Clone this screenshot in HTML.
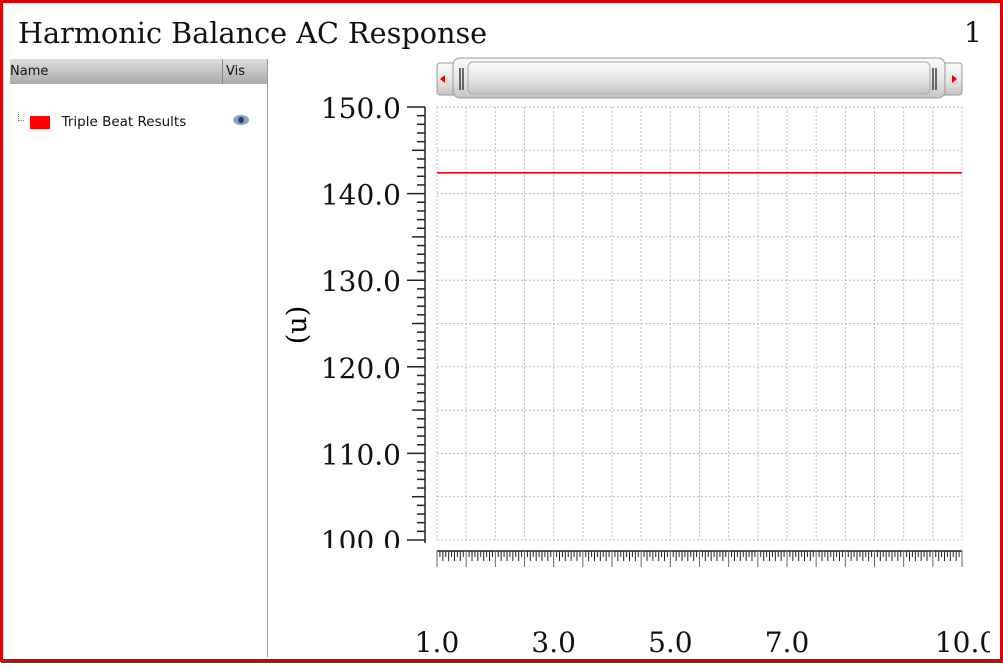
<!DOCTYPE html>
<html><head><meta charset="utf-8"><style>
html,body{margin:0;padding:0;background:#fff;}
body{width:1003px;height:671px;position:relative;overflow:hidden;font-family:"DejaVu Serif",serif;}
#frame{position:absolute;left:0;top:0;width:997px;height:656px;border:3px solid #d00;border-right-width:4px;box-shadow:1px 1px 0 #444;}
#title{position:absolute;left:18px;top:16px;font-size:28.7px;color:#111;font-family:"DejaVu Serif",serif;}
#num{position:absolute;left:964px;top:16px;font-size:28px;color:#111;font-family:"DejaVu Serif",serif;}
#panel{position:absolute;left:10px;top:59px;width:257px;height:598px;border-right:1px solid #999;font-family:"DejaVu Sans",sans-serif;}
#hdr{height:25px;background:linear-gradient(#ddd,#aaa);font-size:13px;color:#111;position:relative;}
#hdr span{position:absolute;top:5px;}
</style></head><body>
<div id="frame"></div>
<div id="title">Harmonic Balance AC Response</div>
<div id="num">1</div>
<div id="panel">
 <div id="hdr">
  <span style="left:0">Name</span>
  <span style="left:212px;border-left:1px solid #888;padding-left:3px;top:0;height:20px;padding-top:5px">Vis</span>
 </div>
 <div style="position:absolute;top:55px;left:8px;font-size:13.5px;color:#111;">
  <span style="display:inline-block;width:5px;height:8px;border-left:1px dotted #888;border-bottom:1px dotted #888;vertical-align:top;margin-top:-2px"></span>
  <span style="display:inline-block;width:20px;height:13px;background:#f00;vertical-align:middle;margin-left:2px"></span>
  <span style="margin-left:7px;vertical-align:middle">Triple Beat Results</span>
 </div>
 <svg style="position:absolute;left:222px;top:55px" width="18" height="12"><ellipse cx="9" cy="6" rx="8" ry="5" fill="#8aa0c8"/><circle cx="9" cy="6" r="3" fill="#345"/></svg>
</div>
<svg id="chart" width="1003" height="671" style="position:absolute;left:0;top:0">
 <defs><linearGradient id="sg" x1="0" y1="0" x2="0" y2="1"><stop offset="0" stop-color="#fafafa"/><stop offset="0.5" stop-color="#e8e8e8"/><stop offset="1" stop-color="#c4c4c4"/></linearGradient>
 <clipPath id="ylc"><rect x="270" y="60" width="160" height="488"/></clipPath>
 <clipPath id="xlc"><rect x="270" y="560" width="720" height="100"/></clipPath></defs>
 <g>
  <rect x="437" y="63" width="525" height="32" rx="3" fill="url(#sg)" stroke="#999"/>
  <rect x="453" y="58" width="492" height="40" rx="7" fill="url(#sg)" stroke="#999"/>
  <rect x="468" y="62" width="462" height="32" rx="5" fill="url(#sg)" stroke="#aaa"/>
  <path d="M440 79 l5 -4 v8z" fill="#e00"/><path d="M957 79 l-5 -4 v8z" fill="#e00"/>
  <path d="M460 68 v22 M463 68 v22 M933 68 v22 M936 68 v22" stroke="#222" stroke-width="1.3"/>
 </g>
 <g id="grid"></g>
 <g id="axes"></g>
 <g id="ylabels" clip-path="url(#ylc)"></g>
 <g id="xlabels" clip-path="url(#xlc)"></g>
 <g id="series"></g>
 <text x="306" y="325" font-size="27" transform="rotate(-90 306 325)" text-anchor="middle" font-family="DejaVu Serif, serif">(u)</text>
</svg>
<script>
const xTicks=[1,3,5,7,10];
const xTickLabels=["1.0","3.0","5.0","7.0","10.0"];
const yTicks=[100,110,120,130,140,150];
const yTickLabels=["100.0","110.0","120.0","130.0","140.0","150.0"];
const seriesX=[1,10];
const seriesY=[142.4,142.4];
const X0=437,X1=962,Y0=540,Y1=107,xmin=1,xmax=10,ymin=100,ymax=150;
const sx=v=>X0+(v-xmin)/(xmax-xmin)*(X1-X0);
const sy=v=>Y0-(v-ymin)/(ymax-ymin)*(Y0-Y1);
const NS="http://www.w3.org/2000/svg";
function mk(p,t,a){const e=document.createElementNS(NS,t);for(const k in a)e.setAttribute(k,a[k]);p.appendChild(e);return e;}
const grid=document.getElementById('grid'),axes=document.getElementById('axes'),ser=document.getElementById('series');
const yl=document.getElementById('ylabels'),xl=document.getElementById('xlabels');
for(let v=xmin;v<=xmax+1e-9;v+=0.5){const l=mk(grid,'line',{x1:sx(v),x2:sx(v),y1:Y1,y2:Y0,stroke:'#bbb','stroke-dasharray':'2,2'});

}
for(let v=ymin;v<=ymax+1e-9;v+=5){const l=mk(grid,'line',{x1:X0,x2:X1,y1:sy(v),y2:sy(v),stroke:'#bbb','stroke-dasharray':'2,2'});

}
mk(axes,'line',{x1:425,x2:425,y1:Y1,y2:Y0+3,stroke:'#222','stroke-width':1.5});
for(let v=ymin;v<=ymax;v++){const len=v%10==0?18:(v%5==0?13:8);mk(axes,'line',{x1:425-len,x2:425,y1:sy(v),y2:sy(v),stroke:'#222','stroke-width':1.5});}
yTicks.forEach((v,i)=>{const t=mk(yl,'text',{x:401,y:sy(v)+11,'font-size':28,'text-anchor':'end','font-family':'DejaVu Serif, serif',fill:'#111'});t.textContent=yTickLabels[i];

});
mk(axes,'line',{x1:X0,x2:X1,y1:551,y2:551,stroke:'#222','stroke-width':1.5});
for(let k=0;k<=180;k++){const v=xmin+k*0.05;const len=k%10==0?16:(k%2==0?10:6);mk(axes,'line',{x1:sx(v),x2:sx(v),y1:551,y2:551+len,stroke:k%10==0?'#666':'#222','stroke-width':1});}
xTicks.forEach((v,i)=>{const t=mk(xl,'text',{x:sx(v),y:652,'font-size':28,'text-anchor':'middle','font-family':'DejaVu Serif, serif',fill:'#111'});t.textContent=xTickLabels[i];
if(i==xTicks.length-1)t.setAttribute('x',sx(v)+4);

});
const pts=seriesX.map((x,i)=>sx(x)+','+sy(seriesY[i])).join(' ');
const pl=mk(ser,'polyline',{points:pts,fill:'none',stroke:'#f00','stroke-width':1.6});


</script>
</body></html>
